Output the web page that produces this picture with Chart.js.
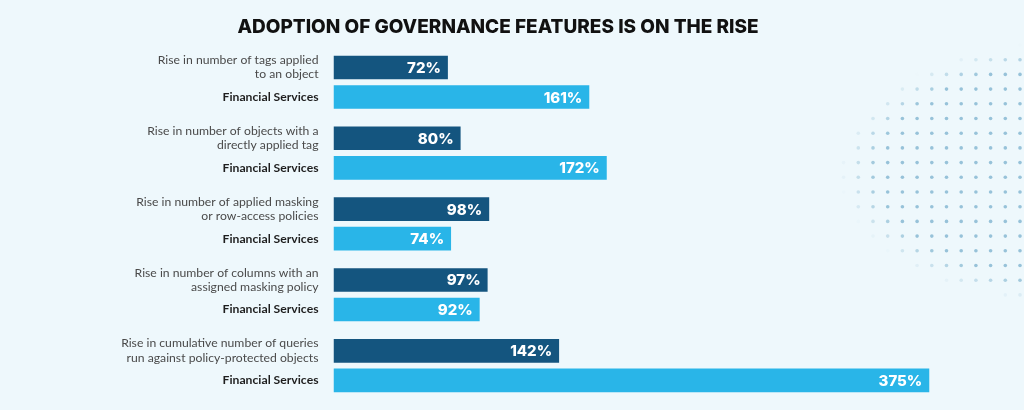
<!DOCTYPE html>
<html><head><meta charset="utf-8">
<script src="https://cdn.jsdelivr.net/npm/chart.js@4.4.1/dist/chart.umd.min.js"></script>
<style>html,body{margin:0;padding:0;background:#eef8fc;}#wrap{width:1024px;height:410px;position:relative}</style>
</head><body><div id="wrap"><canvas id="c"></canvas></div>
<script>
const chartTitle = 'ADOPTION OF GOVERNANCE FEATURES IS ON THE RISE';
const categories = [
  ['Rise in number of tags applied', 'to an object'],
  ['Rise in number of objects with a', 'directly applied tag'],
  ['Rise in number of applied masking', 'or row-access policies'],
  ['Rise in number of columns with an', 'assigned masking policy'],
  ['Rise in cumulative number of queries', 'run against policy-protected objects']
];
const seriesNames = ['All Industries', 'Financial Services'];
const allValues = [72, 80, 98, 97, 142];
const fsValues = [161, 172, 74, 92, 375];

const bgPlugin = {
  id: 'bg',
  beforeDraw(chart) {
    const ctx = chart.ctx;
    ctx.save();
    ctx.fillStyle = '#eef8fc';
    ctx.fillRect(0, 0, chart.width, chart.height);
    // decorative dot pattern
    const cx = 1065, cy = 172, rx = 225, ry = 130, step = 14.7;
    for (let y = 45; y < 300; y += step) {
      for (let x = 1020; x > 820; x -= step) {
        const d = Math.pow((x - cx) / rx, 2) + Math.pow((y - cy) / ry, 2);
        if (d > 1) continue;
        const a = Math.min(1, (1 - d) * 3.2) * 0.85;
        ctx.fillStyle = 'rgba(135,185,210,' + a.toFixed(3) + ')';
        ctx.beginPath();
        ctx.arc(x, y, 1.8, 0, Math.PI * 2);
        ctx.fill();
      }
    }
    ctx.restore();
  }
};

const valueLabels = {
  id: 'valueLabels',
  afterDatasetsDraw(chart) {
    const ctx = chart.ctx;
    ctx.save();
    ctx.font = '800 15px Inter';
    ctx.fillStyle = '#ffffff';
    ctx.textAlign = 'right';
    ctx.textBaseline = 'middle';
    chart.data.datasets.forEach((ds, di) => {
      chart.getDatasetMeta(di).data.forEach((bar, i) => {
        ctx.fillText(ds.data[i] + '%', bar.x - 7, bar.y + 1);
      });
    });
    ctx.restore();
  }
};

function noPad(s) { s.paddingTop = 0; s.paddingBottom = 0; }

new Chart(document.getElementById('c'), {
  type: 'bar',
  data: {
    labels: categories,
    datasets: [
      { label: seriesNames[0], data: allValues, backgroundColor: '#14557f', borderWidth: 0,
        categoryPercentage: 0.834, barPercentage: 0.80 },
      { label: seriesNames[1], data: fsValues, backgroundColor: '#29b5e8', borderWidth: 0,
        categoryPercentage: 0.834, barPercentage: 0.80 }
    ]
  },
  options: {
    indexAxis: 'y',
    responsive: true,
    maintainAspectRatio: false,
    animation: false,
    layout: { padding: { left: 0, right: 28, top: 0, bottom: 9 } },
    plugins: {
      legend: { display: false },
      tooltip: { enabled: false },
      title: {
        display: true, text: chartTitle, color: '#111111',
        font: { family: 'Inter', size: 19, weight: '800' },
        padding: { top: 16, bottom: 8 }
      }
    },
    scales: {
      x: { type: 'linear', min: 0, max: 417, display: false },
      y: {
        type: 'category', position: 'left', weight: 1,
        grid: { display: false, drawTicks: false }, border: { display: false },
        ticks: { autoSkip: false, color: '#4a4a4a', padding: 15, labelOffset: -15,
          font: { family: 'Lato', size: 12.2, lineHeight: 1.17 } },
        afterFit(s) { s.width = 333.5; noPad(s); }
      },
      y2: {
        type: 'category', labels: categories, position: 'left', weight: 0, offset: true,
        grid: { display: false, drawTicks: false }, border: { display: false },
        ticks: { autoSkip: false, color: '#1e1e1e', padding: 15, labelOffset: 14.8,
          callback: () => seriesNames[1],
          font: { family: 'Lato', size: 12.2, weight: 'bold' } },
        afterFit(s) { s.width = 0; noPad(s); s._computeLabelArea = () => null; }
      }
    }
  },
  plugins: [bgPlugin, valueLabels]
});
</script>
</body></html>
